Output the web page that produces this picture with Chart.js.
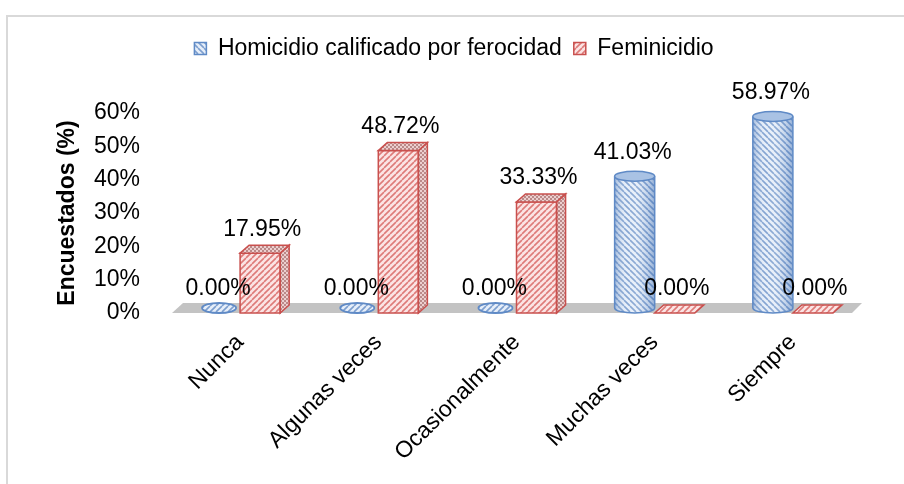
<!DOCTYPE html>
<html><head><meta charset="utf-8">
<script src="https://cdn.jsdelivr.net/npm/chart.js@4/dist/chart.umd.min.js"></script>
<style>
html,body{margin:0;padding:0;background:#fff;}
#wrap{position:relative;width:904px;height:484px;overflow:hidden;}
#frame{position:absolute;left:6px;top:15px;right:-4px;bottom:-4px;border-top:2px solid #d9d9d9;border-left:2px solid #d9d9d9;pointer-events:none;}
canvas{display:block;}
</style></head>
<body><div id="wrap"><canvas id="c" width="904" height="484"></canvas><div id="frame"></div></div>
<script>
const categories = ['Nunca', 'Algunas veces', 'Ocasionalmente', 'Muchas veces', 'Siempre'];
const seriesNames = ['Homicidio calificado por ferocidad', 'Feminicidio'];
const homicidio = [0.00, 0.00, 0.00, 41.03, 58.97];
const feminicidio = [17.95, 48.72, 33.33, 0.00, 0.00];
const yTicks = [0, 10, 20, 30, 40, 50, 60];

const FONT = "'Liberation Sans', Arial, sans-serif";
const FS = 23;
const canvas = document.getElementById('c');
const ctx = canvas.getContext('2d');

function stripe(bg, fg, dir, size, lw) {
  const c = document.createElement('canvas');
  c.width = c.height = size;
  const x = c.getContext('2d');
  x.fillStyle = bg; x.fillRect(0, 0, size, size);
  x.strokeStyle = fg; x.lineWidth = lw;
  x.beginPath();
  for (let k = -1; k <= 1; k++) {
    if (dir > 0) { x.moveTo(k * size, size); x.lineTo(k * size + size, 0); }
    else { x.moveTo(k * size, 0); x.lineTo(k * size + size, size); }
  }
  x.stroke();
  return ctx.createPattern(c, 'repeat');
}
function cross(bg, fg) {
  const c = document.createElement('canvas');
  c.width = c.height = 4;
  const x = c.getContext('2d');
  x.fillStyle = bg; x.fillRect(0, 0, 4, 4);
  x.fillStyle = fg; x.fillRect(0, 0, 2, 2); x.fillRect(2, 2, 2, 2);
  return ctx.createPattern(c, 'repeat');
}
const bluePat = stripe('#e6eef9', '#7d9fcf', -1, 6, 1.6);
const blueFlat = stripe('#e6eef9', '#7d9fcf', 1, 6, 1.6);
const redPat = stripe('#fbe4e4', '#de7b79', 1, 6, 1.6);
const redSide = cross('#eccfcf', '#bb8a89');
const BLUE_LINE = '#5f8ac6';
const RED_LINE = '#c9504e';
const DX = 9, DY = 8, RY = 5;

const deco = {
  id: 'deco',
  afterLayout(chart) {
    chart.legend.left += 23;
    chart.legend.right += 23;
  },
  beforeDatasetsDraw(chart) {
    const c = chart.ctx, a = chart.chartArea;
    const y0 = chart.scales.y.getPixelForValue(0);
    c.save();
    c.fillStyle = '#c3c3c3';
    c.beginPath();
    c.moveTo(a.left + 1, y0);
    c.lineTo(a.right - DX - 1, y0);
    c.lineTo(a.right, y0 - DY - 2);
    c.lineTo(a.left + DX + 3, y0 - DY - 2);
    c.closePath();
    c.fill();
    c.restore();
  },
  beforeDatasetDraw(chart, args) {
    const c = chart.ctx;
    c.save();
    if (args.index === 0) {
      const meta = chart.getDatasetMeta(0);
      c.beginPath();
      meta.data.forEach(el => {
        const w = el.width, l = el.x - w / 2, bot = el.base - RY;
        c.rect(l, 0, w, bot);
        c.moveTo(el.x + w / 2, bot);
        c.ellipse(el.x, bot, w / 2, RY, 0, 0, Math.PI * 2);
      });
      c.clip();
    }
  },
  afterDatasetDraw(chart, args) {
    const c = chart.ctx;
    c.restore();
    const meta = chart.getDatasetMeta(args.index);
    c.save();
    if (args.index === 0) {
      meta.data.forEach(el => {
        const w = el.width, rx = w / 2, l = el.x - rx, r = el.x + rx;
        const bot = el.base - RY;
        const top = Math.min(el.y, bot);
        if (bot - top > 1) {
          c.save();
          c.beginPath();
          c.rect(l, top, w, bot - top);
          c.moveTo(r, bot);
          c.ellipse(el.x, bot, rx, RY, 0, 0, Math.PI);
          c.clip();
          const g = c.createLinearGradient(l, 0, r, 0);
          g.addColorStop(0, 'rgba(70,115,180,0.45)');
          g.addColorStop(0.3, 'rgba(255,255,255,0.05)');
          g.addColorStop(0.55, 'rgba(255,255,255,0.15)');
          g.addColorStop(0.85, 'rgba(70,115,180,0.25)');
          g.addColorStop(1, 'rgba(70,115,180,0.5)');
          c.fillStyle = g;
          c.fillRect(l, top - RY, w, bot - top + 2 * RY + 2);
          c.restore();
          c.strokeStyle = BLUE_LINE; c.lineWidth = 1.5;
          c.beginPath();
          c.moveTo(l, top); c.lineTo(l, bot);
          c.ellipse(el.x, bot, rx, RY, 0, Math.PI, 0, true);
          c.lineTo(r, top);
          c.stroke();
          c.beginPath();
          c.ellipse(el.x, top, rx, RY, 0, 0, Math.PI * 2);
          c.fillStyle = '#a9c2e4';
          c.fill();
          c.stroke();
        } else {
          c.beginPath();
          c.ellipse(el.x - 1, bot, rx - 3, RY, 0, 0, Math.PI * 2);
          c.fillStyle = blueFlat;
          c.fill();
          c.strokeStyle = BLUE_LINE; c.lineWidth = 1.8;
          c.stroke();
        }
      });
    } else {
      meta.data.forEach(el => {
        const w = el.width, l = el.x - w / 2, r = el.x + w / 2;
        const t = el.y, b = el.base;
        c.strokeStyle = RED_LINE; c.lineWidth = 1.5;
        if (b - t > 1) {
          c.beginPath();
          c.moveTo(r, t); c.lineTo(r + DX, t - DY); c.lineTo(r + DX, b - DY); c.lineTo(r, b);
          c.closePath();
          c.fillStyle = redSide; c.fill(); c.stroke();
          c.strokeRect(l, t, w, b - t);
        }
        c.beginPath();
        c.moveTo(l, t); c.lineTo(l + DX, t - DY); c.lineTo(r + DX, t - DY); c.lineTo(r, t);
        c.closePath();
        c.fillStyle = (b - t > 1) ? redSide : redPat;
        c.fill(); c.stroke();
      });
    }
    c.restore();
  },
  afterDatasetsDraw(chart) {
    const c = chart.ctx;
    c.save();
    c.font = FS + 'px ' + FONT;
    c.fillStyle = '#000';
    c.textAlign = 'center';
    c.textBaseline = 'middle';
    chart.data.datasets.forEach((ds, i) => {
      chart.getDatasetMeta(i).data.forEach((el, j) => {
        const v = ds.data[j];
        c.fillText(v.toFixed(2) + '%', el.x + (i === 1 ? 2 : -2), Math.min(el.y, el.base) - 24);
      });
    });
    c.restore();
  }
};

new Chart(canvas, {
  type: 'bar',
  data: {
    labels: categories,
    datasets: [
      { label: seriesNames[0], data: homicidio, backgroundColor: bluePat, borderColor: BLUE_LINE,
        borderWidth: 0, categoryPercentage: 0.58, barPercentage: 1.0 },
      { label: seriesNames[1], data: feminicidio, backgroundColor: redPat, borderColor: RED_LINE,
        borderWidth: 0, categoryPercentage: 0.58, barPercentage: 1.0 }
    ]
  },
  options: {
    responsive: false,
    animation: false,
    devicePixelRatio: 1,
    layout: { padding: { top: 25, right: 42, bottom: 0, left: 0 } },
    scales: {
      x: {
        grid: { display: false, drawTicks: false },
        border: { display: false },
        ticks: { minRotation: 45, maxRotation: 45, padding: 16, color: '#000',
                 font: { family: FONT, size: FS } },
        afterFit(s) { s.height = 171; }
      },
      y: {
        min: 0, max: 60,
        afterBuildTicks(s) { s.ticks = yTicks.map(v => ({ value: v })); },
        grid: { display: false, drawTicks: false },
        border: { display: false },
        ticks: { padding: 31, color: '#000', font: { family: FONT, size: FS },
                 callback: v => v + '%' },
        title: { display: true, text: 'Encuestados (%)', color: '#000',
                 font: { family: FONT, size: FS, weight: 'bold' }, padding: { top: 54, bottom: 0 } },
        afterFit(s) { s.width = 171; }
      }
    },
    plugins: {
      legend: {
        position: 'top',
        weight: 1000,
        labels: {
          color: '#000', boxWidth: 12, boxHeight: 12, padding: 12,
          font: { family: FONT, size: FS },
          generateLabels(chart) {
            return chart.data.datasets.map((ds, i) => ({
              text: ds.label, fillStyle: ds.backgroundColor, strokeStyle: ds.borderColor,
              lineWidth: 1.5, hidden: false, datasetIndex: i, fontColor: '#000'
            }));
          }
        }
      },
      title: { display: true, text: ' ', weight: 500, font: { size: 10 }, padding: { top: 0, bottom: 31 } },
      tooltip: { enabled: false }
    }
  },
  plugins: [deco]
});
</script>
</body></html>
